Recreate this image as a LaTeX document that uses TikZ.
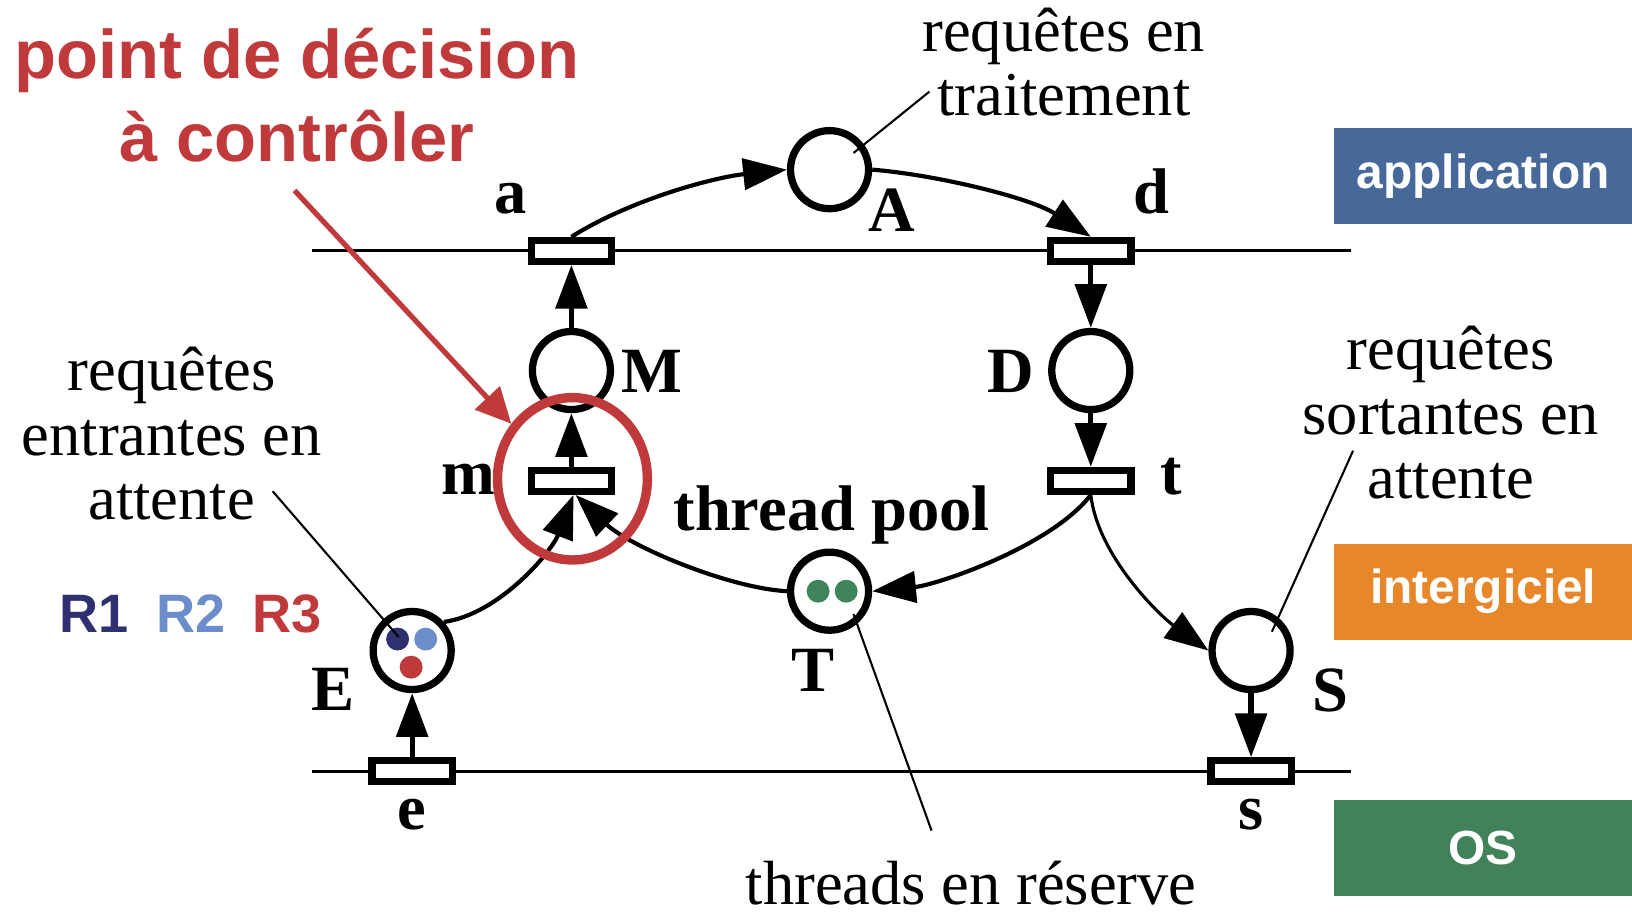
\documentclass[tikz,border=0pt]{standalone}
\usepackage{fontspec}
\setmainfont{Liberation Serif}
\setsansfont{Liberation Sans}
\usetikzlibrary{arrows.meta,shapes.geometric}
\definecolor{myred}{RGB}{192,57,59}
\definecolor{rnavy}{RGB}{46,48,112}
\definecolor{rlight}{RGB}{107,141,203}
\definecolor{appblue}{RGB}{70,105,154}
\definecolor{midorange}{RGB}{232,134,42}
\definecolor{osgreen}{RGB}{66,130,90}
\definecolor{tokgreen}{RGB}{63,133,89}
\begin{document}
\begin{tikzpicture}[x=1pt,y=-1pt,
  place/.style={circle, draw, line width=7pt, minimum size=75pt, inner sep=0pt},
  trans/.style={rectangle, draw, fill=white, line width=7pt, minimum width=77pt, minimum height=20pt, inner sep=0pt},
  arc/.style={line width=4pt, -{Triangle[length=42pt,width=30pt]}},
  straightarc/.style={line width=5pt, -{Triangle[length=42pt,width=30pt]}},
  thinarc/.style={line width=3pt, -{Triangle[length=42pt,width=30pt]}},
  lbl/.style={font=\fontsize{62}{62}\selectfont\bfseries, anchor=base, inner sep=0pt},
  txt/.style={font=\fontsize{60}{62}\selectfont, align=center, inner sep=0pt, anchor=south},
  leader/.style={line width=2pt},
  level/.style={line width=3pt},
  token/.style={circle, inner sep=0pt, minimum size=22pt},
  layer/.style={rectangle, inner sep=0pt, minimum width=286pt, minimum height=92pt, text=white,
    font=\sffamily\bfseries\fontsize{46}{46}\selectfont},
  rlbl/.style={font=\sffamily\bfseries\fontsize{52}{52}\selectfont, anchor=base, inner sep=0pt}
]
\useasboundingbox (0,0) rectangle (1568,880);

% level lines
\coordinate (L1a) at (300,241);
\coordinate (L1b) at (1298,241);
\coordinate (L2a) at (300,741);
\coordinate (L2b) at (1298,741);
\draw[level] (L1a) -- (L1b);
\draw[level] (L2a) -- (L2b);

% transitions
\node[trans] (a) at (549,241) {};
\node[trans] (d) at (1048,241) {};
\node[trans] (m) at (549,462) {};
\node[trans] (t) at (1048,462) {};
\node[trans] (e) at (396,741) {};
\node[trans] (s) at (1202,741) {};

% places
\node[place] (A) at (797,163) {};
\node[place] (M) at (549,356) {};
\node[place] (D) at (1048,356) {};
\node[place] (E) at (396,625) {};
\node[place] (T) at (797,568) {};
\node[place] (S) at (1202,625) {};

% tokens
\node[token, fill=rnavy] (tk1) at (382,614) {};
\node[token, fill=rlight] (tk2) at (409,614) {};
\node[token, fill=myred] (tk3) at (395,641) {};
\node[token, fill=tokgreen] (tk4) at (786,568) {};
\node[token, fill=tokgreen] (tk5) at (813,568) {};

% arcs
\draw[arc] (a.north) .. controls (609,190) and (689,170) .. (A.west);
\draw[arc] (A.east) .. controls (900,168) and (990,190) .. (d.north);
\draw[straightarc] (d.south) -- (D.north);
\draw[straightarc] (D.south) -- (t.north);
\draw[straightarc] (M.north) -- (a.south);
\draw[straightarc] (m.north) -- (M.south);
\draw[straightarc] (e.north) -- (E.south);
\draw[straightarc] (S.south) -- (s.north);
\draw[arc] (E.42) .. controls (480,590) and (530,530) .. ([xshift=2pt]m.south);
\draw[arc] (T.west) .. controls (700,565) and (605,525) .. ([xshift=4pt]m.south);
\draw[arc] (t.south) .. controls (1010,525) and (900,562) .. (T.east);
\draw[thinarc] (t.south) .. controls (1055,535) and (1115,592) .. (S.west);

% labels
\node[lbl] (la) at (491,205) {a};
\node[lbl] (lA) at (857,222) {A};
\node[lbl] (ld) at (1106,205) {d};
\node[lbl] (lM) at (626,377) {M};
\node[lbl] (lD) at (971,377) {D};
\node[lbl] (lm) at (450,475) {m};
\node[lbl] (lt) at (1125,475) {t};
\node[lbl] (lpool) at (799,510) {thread pool};
\node[lbl] (lE) at (320,683) {E};
\node[lbl] (lT) at (781,664) {T};
\node[lbl] (lS) at (1278,684) {S};
\node[lbl] (le) at (396,797) {e};
\node[lbl] (ls) at (1202,797) {s};

% comments
\node[txt] (ctrait) at (1022,112) {requêtes en\\traitement};
\node[txt] (cin) at (165,500) {requêtes\\entrantes en\\attente};
\node[txt] (cout) at (1394,480) {requêtes\\sortantes en\\attente};
\node[txt] (cres) at (933,870) {threads en réserve};

% leaders
\coordinate (p1) at (893,88);
\coordinate (q1) at (820,147);
\coordinate (p2) at (262,472);
\coordinate (q2) at (383,612);
\coordinate (p3) at (1300,433);
\coordinate (q3) at (1222,607);
\coordinate (p4) at (895,798);
\coordinate (q4) at (820,590);
\draw[leader] (p1) -- (q1);
\draw[leader] (p2) -- (q2);
\draw[leader] (p3) -- (q3);
\draw[leader] (p4) -- (q4);

% R1 R2 R3
\node[rlbl, text=rnavy] (r1) at (90,608) {R1};
\node[rlbl, text=rlight] (r2) at (184,608) {R2};
\node[rlbl, text=myred] (r3) at (276,608) {R3};

% decision point
\node[ellipse, draw=myred, line width=9pt, minimum width=144pt, minimum height=156pt, inner sep=0pt] (focus) at (550,460) {};
\node[font=\sffamily\bfseries\fontsize{66}{80}\selectfont, text=myred, align=center, inner sep=0pt, anchor=south] (ptdec) at (285,156) {point de décision\\à contrôler};
\coordinate (rs) at (283,183);
\draw[myred, line width=5pt, -{Triangle[length=34pt,width=32pt]}] (rs) -- (focus.138);

% layers
\node[layer, fill=appblue] (app) at (1425,169) {application};
\node[layer, fill=midorange] (mid) at (1425,568.5) {intergiciel};
\node[layer, fill=osgreen] (os) at (1425,815) {OS};
\end{tikzpicture}
\end{document}
